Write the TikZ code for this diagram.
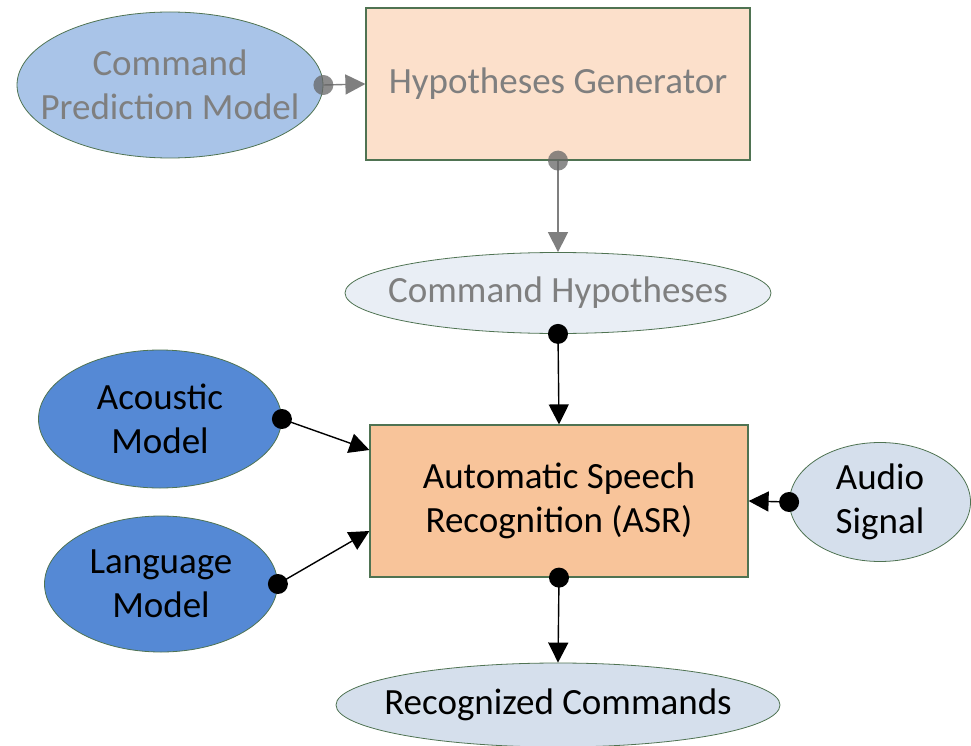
\documentclass[tikz,border=0pt]{standalone}
\usepackage{fontspec}
\setmainfont{Carlito}
\usepackage{tikz}
\usetikzlibrary{shapes.geometric,arrows.meta}

\definecolor{predfill}{HTML}{A9C4E8}
\definecolor{genfill}{HTML}{FCE0CB}
\definecolor{hypfill}{HTML}{E9EEF5}
\definecolor{asrfill}{HTML}{F8C49A}
\definecolor{modelfill}{HTML}{5589D5}
\definecolor{sigfill}{HTML}{D5DFEC}
\definecolor{rim}{HTML}{4F7352}
\definecolor{faded}{HTML}{7F7F7F}

\tikzset{
  box/.style={draw=rim, line width=1.2pt, inner sep=0pt, align=center},
  oval/.style={ellipse, draw=rim, line width=0.8pt, inner xsep=-60pt, inner ysep=-14pt, align=center},
  link/.style={line width=1.4pt, -{Triangle[length=20pt,width=20pt]}},
  greylink/.style={link, draw=faded, -{Triangle[length=20pt,width=20pt,fill=faded]}}
}

\begin{document}
\begin{tikzpicture}[x=1pt,y=-1pt,font=\fontsize{37}{44}\selectfont]
\useasboundingbox (0,0) rectangle (971,746);

% top part (greyed out)
\node[oval,fill=predfill,text=faded,minimum width=306pt,minimum height=146pt] (pred) at (170,85) {Command\\Prediction Model};
\node[box,fill=genfill,text=faded,minimum width=384pt,minimum height=152pt] (gen) at (558,84) {Hypotheses Generator};
\node[oval,fill=hypfill,text=faded,minimum width=426pt,minimum height=81pt] (hyp) at (558,293) {Command Hypotheses};

% recogniser and its inputs
\node[box,fill=asrfill,minimum width=378pt,minimum height=152pt] (asr) at (559,501) {Automatic Speech\\Recognition (ASR)};
\node[oval,fill=modelfill,minimum width=243pt,minimum height=138pt] (am) at (160,419) {Acoustic\\Model};
\node[oval,fill=modelfill,minimum width=233pt,minimum height=136pt] (lm) at (161,584) {Language\\Model};
\node[oval,fill=sigfill,minimum width=181pt,minimum height=119pt] (sig) at (880,502) {Audio\\Signal};
\node[oval,fill=sigfill,minimum width=444pt,minimum height=84pt] (out) at (558,705) {Recognized Commands};

% connectors
\draw[greylink] (pred.east) -- (gen.west);
\draw[greylink] (gen.south) -- (hyp.north);
\draw[link] (hyp.south) -- (asr.north);
\draw[link] (am.east) -- ([yshift=51pt]asr.west);
\draw[link] (lm.east) -- ([yshift=-30pt]asr.west);
\draw[link] (sig.west) -- (asr.east);
\draw[link] (asr.south) -- (out.north);

% dots where the connectors start
\fill[black!60,opacity=0.75] (pred.east) circle (10pt);
\fill[black!60,opacity=0.75] (gen.south) circle (10pt);
\foreach \p in {hyp.south,am.east,lm.east,sig.west,asr.south}
  \fill (\p) circle (10pt);
\end{tikzpicture}
\end{document}
